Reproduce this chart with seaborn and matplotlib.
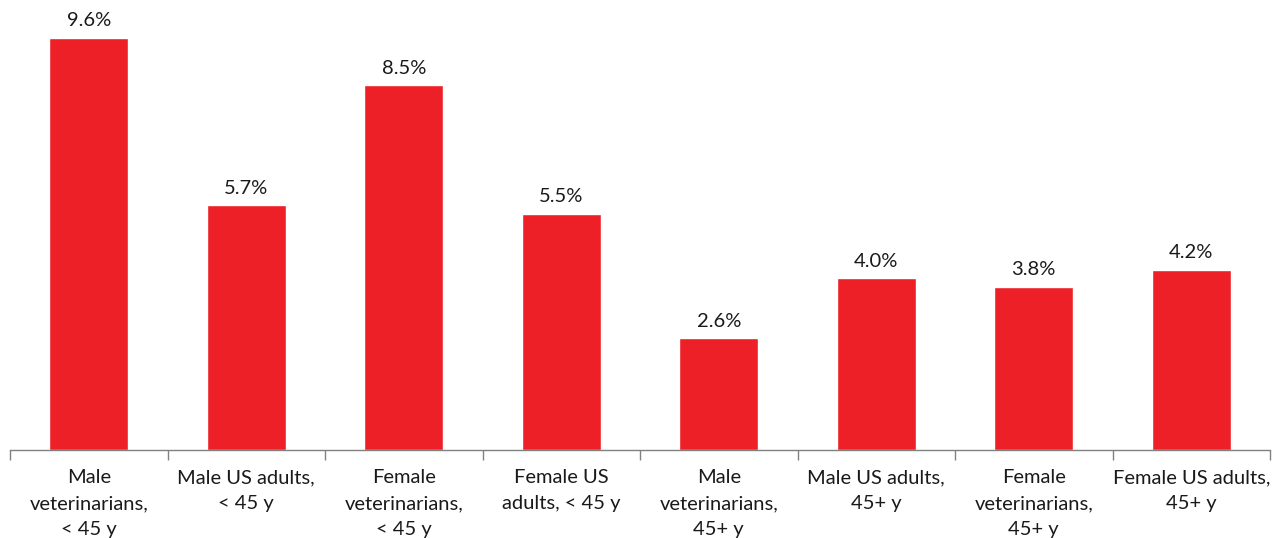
import matplotlib
matplotlib.use("Agg")
import matplotlib.pyplot as plt
import seaborn as sns
import pandas as pd
import numpy as np

categories = [
    "Male\nveterinarians,\n< 45 y",
    "Male US adults,\n< 45 y",
    "Female\nveterinarians,\n< 45 y",
    "Female US\nadults, < 45 y",
    "Male\nveterinarians,\n45+ y",
    "Male US adults,\n45+ y",
    "Female\nveterinarians,\n45+ y",
    "Female US adults,\n45+ y",
]
values = [9.6, 5.7, 8.5, 5.5, 2.6, 4.0, 3.8, 4.2]
value_labels = ["9.6%", "5.7%", "8.5%", "5.5%", "2.6%", "4.0%", "3.8%", "4.2%"]

sns.set_theme(style="white")
plt.rcParams["font.family"] = ["Lato", "DejaVu Sans"]

df = pd.DataFrame({"cat": categories, "val": values})

fig = plt.figure(figsize=(12.75, 5.38), dpi=100)
ax = fig.add_axes([10 / 1275, 88 / 538, 1260 / 1275, 450 / 538])
sns.barplot(data=df, x="cat", y="val", color="#EE2027", saturation=1, width=0.5, ax=ax)

ax.set_ylim(0, 450 / 42.92)
ax.set_xlim(-0.5, len(categories) - 0.5)
for i, (v, lab) in enumerate(zip(values, value_labels)):
    ax.text(i, v + 0.2, lab, ha="center", va="bottom", fontsize=14.5, color="#1a1a1a")

for s in ["top", "right", "left"]:
    ax.spines[s].set_visible(False)
ax.spines["bottom"].set_color("#808080")
ax.spines["bottom"].set_linewidth(1.0)
ax.set_yticks([])
ax.set_xlabel("")
ax.set_ylabel("")
ax.set_xticks(range(len(categories)))
ax.set_xticklabels(categories, fontsize=14.5, color="#1a1a1a", linespacing=1.62)
ax.tick_params(axis="x", which="major", length=0, pad=14)
ax.set_xticks(np.arange(-0.5, len(categories), 1.0), minor=True)
ax.tick_params(axis="x", which="minor", length=7, width=1.0, color="#808080", direction="out", bottom=True)

fig.savefig("out.png", dpi=100)
